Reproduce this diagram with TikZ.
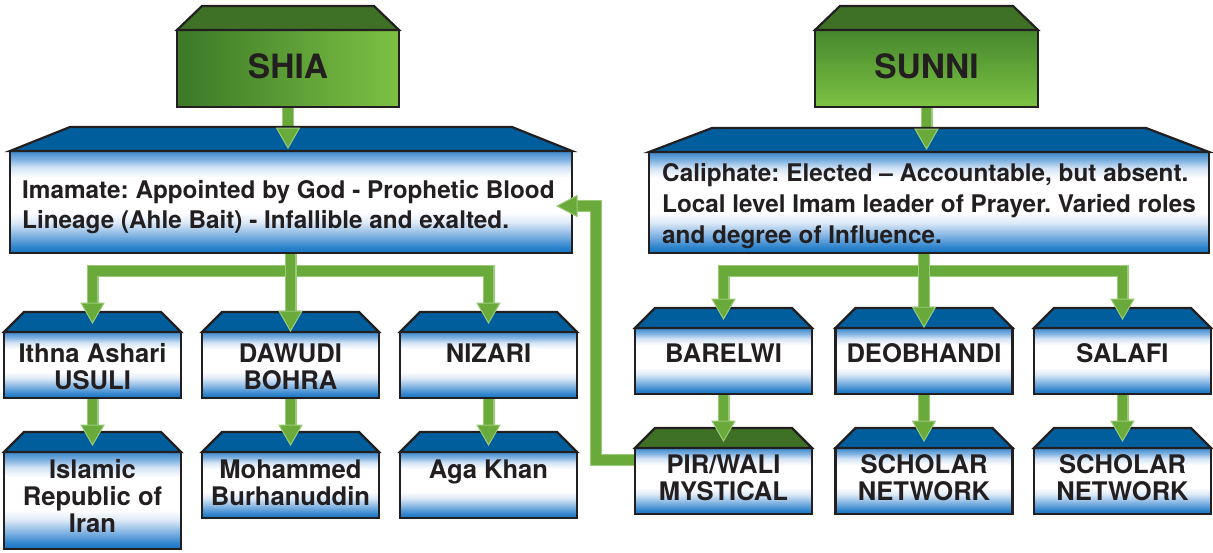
\documentclass[tikz,border=0pt]{standalone}
\usepackage{fontspec}
\setmainfont{TeX Gyre Heros}
\usetikzlibrary{calc}
\frenchspacing

\definecolor{ink}{HTML}{231F20}
\definecolor{roofblue}{HTML}{015E9C}
\definecolor{roofgreen}{HTML}{3E7126}
\definecolor{linkgreen}{HTML}{6AAA3A}
\definecolor{linkedge}{HTML}{9ACB78}
\definecolor{shiadark}{HTML}{3B7927}
\definecolor{shialight}{HTML}{7CC143}
\definecolor{sunnitop}{HTML}{46872D}
\definecolor{sunnibot}{HTML}{7CC243}
\definecolor{bA}{HTML}{1574C3}
\definecolor{bB}{HTML}{2E84CC}
\definecolor{bC}{HTML}{78AEE0}
\definecolor{bD}{HTML}{DDE9F7}
\definecolor{bE}{HTML}{D2E3F5}
\definecolor{bF}{HTML}{7DB0E0}
\definecolor{bG}{HTML}{3A88CC}

% blue body: blue at top and bottom, white band through the middle
\pgfdeclareverticalshading{bluebody}{100bp}{%
  color(0bp)=(bA); color(25bp)=(bA); color(28bp)=(bB); color(33bp)=(bC);
  color(40bp)=(bD); color(45bp)=(white); color(62bp)=(white);
  color(67bp)=(bE); color(71bp)=(bF); color(75bp)=(bG); color(100bp)=(bG)}

\pgfdeclarelayer{back}
\pgfsetlayers{back,main}

\tikzset{
  body/.style={draw=ink, line width=2.2pt, outer sep=0pt, inner sep=0pt},
  bluebox/.style={body, shade, shading=bluebody},
  smallbox/.style={bluebox, minimum width=177pt, minimum height=66pt},
  title/.style={text=ink, inner sep=0pt, anchor=base,
    font=\bfseries\fontsize{33.5}{36}\selectfont},
  bigtext/.style={text=ink, inner sep=0pt, anchor=north west, align=left,
    font=\bfseries\fontsize{24.3}{30}\selectfont},
  smalltext/.style={text=ink, inner sep=0pt, anchor=north, align=center,
    font=\bfseries\fontsize{25.6}{27}\selectfont},
  conn/.style={draw=linkedge, line width=1.1pt, double=linkgreen,
    double distance=9.8pt, line join=miter},
  headdown/.pic={\filldraw[fill=linkgreen, draw=linkedge, line width=1pt]
    (-11.5,-20) -- (11.5,-20) -- (0,0) -- cycle;},
  headleft/.pic={\filldraw[fill=linkgreen, draw=linkedge, line width=1pt]
    (20,-10.5) -- (20,10.5) -- (0,0) -- cycle;}
}

% sloped roof on top of a body node: node, inset, height, colour
\newcommand\roofon[4]{%
  \draw[ink, line width=2.2pt, fill=#4]
    (#1.north west) -- ([xshift=#2pt,yshift=#3pt]#1.north west)
    -- ([xshift=-#2pt,yshift=#3pt]#1.north east) -- (#1.north east) -- cycle;}
\newcommand\fl{\rule{0pt}{21pt}}
\newcommand\flb{\rule{0pt}{20pt}}

\begin{document}
\begin{tikzpicture}[x=1pt, y=-1pt]
\useasboundingbox (0,0) rectangle (1213,552);

% ---- bodies ----
\node[body, minimum width=222pt, minimum height=77pt,
      left color=shiadark, right color=shialight] (shia) at (288,68.5) {};
\node[body, minimum width=223pt, minimum height=77pt,
      top color=sunnitop, bottom color=sunnibot] (sunni) at (926.5,68.5) {};
\node[bluebox, minimum width=562pt, minimum height=102pt] (imamate) at (291,202) {};
\node[bluebox, minimum width=560pt, minimum height=101pt] (caliph) at (929,202.5) {};

\node[smallbox] (ithna)  at (92.5,365) {};
\node[smallbox] (dawudi) at (290.5,365) {};
\node[smallbox] (nizari) at (488.5,365) {};
\node[bluebox, minimum width=177pt, minimum height=97pt] (iran) at (92.5,500.5) {};
\node[smallbox] (burhan) at (290.5,485) {};
\node[smallbox] (agakhan) at (488.5,485) {};

\node[smallbox] (barelwi) at (723.5,361) {};
\node[smallbox] (deob)    at (924,361) {};
\node[smallbox] (salafi)  at (1122.5,361) {};
\node[smallbox] (pir)     at (723.5,481) {};
\node[smallbox] (schola)  at (924,481) {};
\node[smallbox] (scholb)  at (1122.5,481) {};

% ---- roofs ----
\roofon{shia}{25}{24}{roofgreen}
\roofon{sunni}{25}{24}{roofgreen}
\roofon{imamate}{60}{24}{roofblue}
\roofon{caliph}{63}{24}{roofblue}
\foreach \n in {ithna,dawudi,nizari,iran,burhan,agakhan,barelwi,deob,salafi,schola,scholb}
  {\roofon{\n}{20}{20}{roofblue}}
\roofon{pir}{20}{20}{roofgreen}

% ---- texts ----
\node[title] (shiaT) at (288,78) {SHIA};
\node[title] (sunniT) at (926.5,78) {SUNNI};
\node[bigtext] (imamateT) at (22,178)
  {\flb Imamate: Appointed by God - Prophetic Blood\\Lineage (Ahle Bait) - Infallible and exalted.};
\node[bigtext, font=\bfseries\fontsize{24.3}{31}\selectfont] (caliphT) at (662,161)
  {\flb Caliphate: Elected – Accountable, but absent.\\Local level Imam leader of Prayer. Varied roles\\and degree of Influence.};

\node[smalltext] (ithnaT)  at (92.5,341) {\fl Ithna Ashari\\USULI};
\node[smalltext] (dawudiT) at (290.5,341) {\fl DAWUDI\\BOHRA};
\node[smalltext] (nizariT) at (488.5,341) {\fl NIZARI};
\node[smalltext] (iranT)   at (92.5,457) {\fl Islamic\\Republic of\\Iran};
\node[smalltext] (burhanT) at (290.5,457) {\fl Mohammed\\Burhanuddin};
\node[smalltext] (agaT)    at (488.5,457) {\fl Aga Khan};

\node[smalltext] (barelwiT) at (723.5,341) {\fl BARELWI};
\node[smalltext] (deobT)    at (924,341) {\fl DEOBHANDI};
\node[smalltext] (salafiT)  at (1122.5,341) {\fl SALAFI};
\node[smalltext] (pirT)     at (723.5,452) {\fl PIR/WALI\\MYSTICAL};
\node[smalltext] (scholaT)  at (924,452) {\fl SCHOLAR\\NETWORK};
\node[smalltext] (scholbT)  at (1122.5,452) {\fl SCHOLAR\\NETWORK};

% ---- arrow tips ----
\coordinate (tA) at ([yshift=3pt]shia.south |- imamate.north);
\coordinate (tB) at ([yshift=3pt]sunni.south |- caliph.north);
\coordinate (t1) at ([yshift=9pt]ithna.north);
\coordinate (t2) at ([yshift=1pt]dawudi.north);
\coordinate (t3) at ([yshift=9pt]nizari.north);
\coordinate (t4) at ([yshift=9pt]barelwi.north);
\coordinate (t5) at ([yshift=1pt]deob.north);
\coordinate (t6) at ([yshift=9pt]salafi.north);
\coordinate (t7) at ([yshift=7pt]iran.north);
\coordinate (t8) at ([yshift=7pt]burhan.north);
\coordinate (t9) at ([yshift=7pt]agakhan.north);
\coordinate (t10) at ([yshift=7pt]pir.north);
\coordinate (t11) at ([yshift=7pt]schola.north);
\coordinate (t12) at ([yshift=7pt]scholb.north);
\coordinate (tP) at ([xshift=-15pt,yshift=-4pt]imamate.east);
\coordinate (bar) at (0,271);
\coordinate (pj) at (596,0);

% ---- arrow shafts (behind the boxes) ----
\begin{pgfonlayer}{back}
\draw[conn] (shia.south) -- ([yshift=19pt]tA);
\draw[conn] (sunni.south) -- ([yshift=19pt]tB);
\draw[conn] ([yshift=19pt]t1) |- (bar -| t3) -- ([yshift=19pt]t3);
\draw[conn] (imamate.south -| t2) -- ([yshift=19pt]t2);
\draw[conn] ([yshift=19pt]t4) |- (bar -| t6) -- ([yshift=19pt]t6);
\draw[conn] (caliph.south -| t5) -- ([yshift=19pt]t5);
\draw[conn] (ithna.south) -- ([yshift=19pt]t7);
\draw[conn] (dawudi.south) -- ([yshift=19pt]t8);
\draw[conn] (nizari.south) -- ([yshift=19pt]t9);
\draw[conn] (barelwi.south) -- ([yshift=19pt]t10);
\draw[conn] (deob.south) -- ([yshift=19pt]t11);
\draw[conn] (salafi.south) -- ([yshift=19pt]t12);
\draw[conn] ([yshift=21pt]pir.west) -| (pj |- tP) -- ([xshift=19pt]tP);
\end{pgfonlayer}

% ---- arrow heads ----
\foreach \t in {tA,tB,t1,t2,t3,t4,t5,t6,t7,t8,t9,t10,t11,t12}
  {\pic at (\t) {headdown};}
\pic at (tP) {headleft};
\end{tikzpicture}
\end{document}
